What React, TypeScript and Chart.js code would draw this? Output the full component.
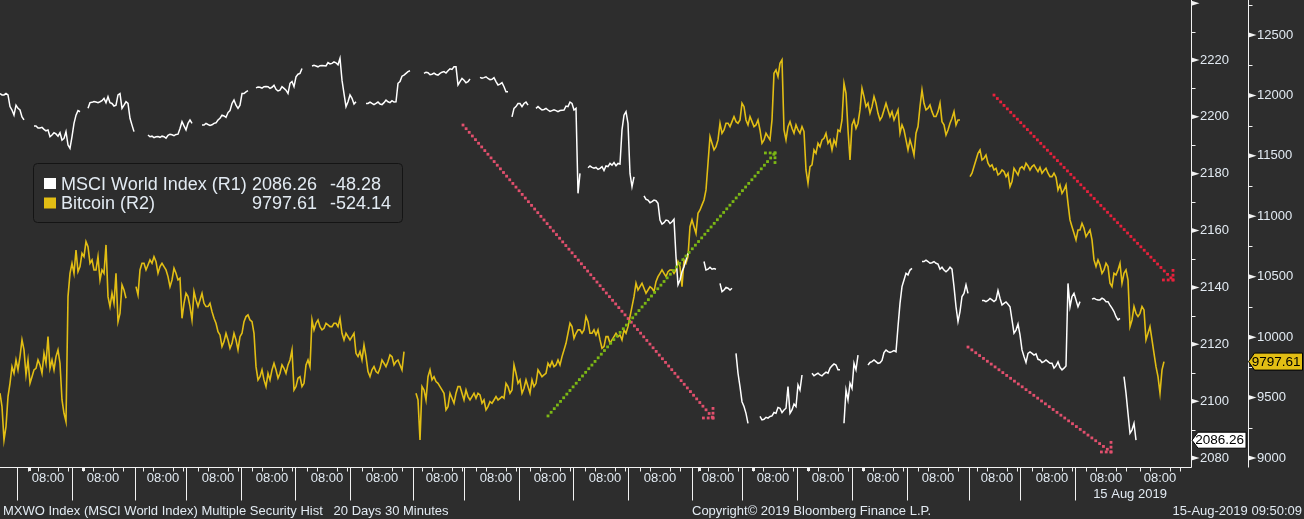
import React, { useEffect, useRef } from 'react';
import { Chart, registerables } from 'chart.js';

Chart.register(...registerables);

const BG = '#2d2d2d';
const TEXT = '#e2eaf2';
const FONT = '"Liberation Sans", Arial, sans-serif';
const YELLOW = '#e2be14';

// x = sample index along Bloomberg's compressed intraday axis
const bitcoin: (number | null)[] = [
  9536, 9149, 9508, 9756, 9811, 9839, 9894, 9811, 9673, 9742,
  9770, 9866, 10004, 9811, 9839, 9784, 9370, 10335, 10611, 10721,
  10584, 10666, 10749, 10639, 10556, 10473, 10528, 10335, 10363, 10528,
  10197, 10390, null, null, 10418, 10556, 10611, 10597, 10611, 10625,
  10584, 10584, 10501, 10473, 10528, 10487, 10280, 10335, 10142, 10308,
  10308, 10280, 10253, 10211, 10115, 10018, 9963, 9977, 9949, 9977,
  10004, 10128, 10184, 10128, 9756, 9673, 9646, 9701, 9729, 9729,
  9701, 9742, 9770, 9894, 9591,
  9673, 9618, 9811, 10142, 10115, 10087, 10073, 10101, 10087, 10115,
  10156, 9977, 10004, 10004, 9866, 9880, 9935, 9715, 9729, 9715,
  9742, 9784, 9798, 9839, 9798, 9770, 9880, null, null, 9536,
  9149, 9563, 9673, 9646, 9632, 9591, 9536, 9425, 9494, 9536,
  9591, 9480, 9508, 9508, 9494, 9522, 9480, 9425, 9453, 9508,
  9494, 9494, 9591, 9563, 9701, 9646, 9577, 9591, 9646, 9618,
  9701, 9687, 9784, 9798, 9770, 9770, 9894, 10032, 10087, 10032,
  10060, 10060, 10128, 10032,
  10018, 9977, 9922, 10004, 9977, 10032, 10018, 10060, 10087, 10253,
  10446, 10418, 10404, 10390, 10404, 10459, 10528, 10528, 10542, 10556,
  10556, 10584, 10639, 10666, 10970, 10859, 11052, 11135, 11439, 11604,
  11576, 11770, 11714, 11770, 11783, 11783, 11797, 11907, 11756, 11783,
  11756, 11714, 11632, 11659, 11797, 12211, 12266, 11714, 11742, 11728,
  11756, 11687, 11701, 11273, 11425, 11521, 11576, 11645, 11604, 11549,
  11590, 11701, 12100, 11714, 11756, 11728, 11880, 11990, 11935, 11907,
  11935, 11797, 11880, 11880,
  11866, 11838, 11687, 11714, 11549, 11576, 11687, 11907, 11935, 11894,
  11866, 11825, 11935, 11756, 11714, 11811, 11756, 11797, null, null,
  11356, 11466, 11549, 11480, 11439, 11425, 11397, 11356, 11370, 11356,
  11287, 11370, 11397, 11389, 11416, 11411, 11397, 11405, 11378, 11356,
  11328, 11323, 11259, 11218, 11107, 10914, 10804, 10887, 10901, 10859,
  10804, 10584, 10597, 10556, 10584, 10418, 10515, 10611, 10528, 10473,
  10142, 10197, 10197, 10225, 10032, 9977, 9756, 9536, 9797.61,
];

// Bitcoin readings half-way between the samples above (x = i + 0.5)
const bitcoinHalfStep: (number | null)[] = [
  9425, 9260, 9618, 9701, 9729, 9977, 9687, 9618, 9729, 9811,
  9701, 9784, 9742, 9729, 9894, 9480, 9301, 10528, 10528, 10542,
  10694, 10790, 10611, 10556, 10666, 10556, 10763, 10253, 10280, 10128,
  10432, 10322, null, null, 10349, 10611, 10556, 10639, 10666, 10528,
  10611, 10556, 10418, 10570, 10473, 10156, 10363, 10253, 10377, 10253,
  10363, 10253, 10280, 10156, 10046, 9922, 10032, 9908, 10032, 9894,
  10032, 10170, 10142, 10032, 9646, 9729, 9591, 9646, 9784, 9660,
  9770, 9701, 9811, 9563, 9660,
  9591, 9770, 9756, 10060, 10142, 10060, 10115, 10087, 10115, 10087,
  10032, 10032, 9977, 10032, 9839, 9811, 9839, 9673, 9756, 9701,
  9811, 9756, 9853, 9770, 9811, 9729, null, null, null, 9480,
  9591, 9480, 9729, 9673, 9618, 9563, 9398, 9536, 9453, 9591,
  9536, 9563, 9480, 9536, 9536, 9453, 9398, 9467, 9480, 9480,
  9508, 9618, 9536, 9770, 9618, 9536, 9646, 9536, 9591, 9729,
  9673, 9701, 9756, 9756, 9811, 9839, 9949, 10115, 9991, 10060,
  10032, 10170, 10032, 10060,
  10060, 9908, 10004, 9949, 10004, 10004, 9977, 10032, 10170, 10335,
  10390, 10446, 10363, 10418, 10377, 10501, 10556, 10501, 10556, 10528,
  10625, 10418, 10611, 10914, 10914, 11025, 11094, 11218, 11659, 11549,
  11632, 11687, 11770, 11742, 11825, 11770, 11935, 11797, 11825, 11742,
  11797, 11604, 11687, 11632, 12183, 12156, 12294, 11632, 11783, 11687,
  11714, 11742, 11383, 11411, 11549, 11604, 11632, 11687, 11632, 11632,
  11714, 11797, 12018, 11466, 11797, 11770, 12059, 11907, 11852, 11990,
  11852, 11825, 11935, 11825,
  11797, 11880, 11756, 11632, 11632, 11507, 11742, 12045, 11880, 11921,
  11825, 11866, 11783, 11673, 11770, 11866, 11797, null, null, 11328,
  11411, 11521, 11466, 11507, 11411, 11383, 11342, 11383, 11328, 11245,
  11397, 11342, 11411, 11439, 11383, 11425, 11370, 11356, 11397, 11328,
  11356, 11218, 11190, 11259, 10970, 10859, 10887, 10942, 10832, 10887,
  10639, 10639, 10528, 10611, 10446, 10528, 10556, 10446, 10556, 10087,
  10253, 10170, 10253, 9977, 10087, 9866, 9673, 9729,
];

const msci: (number | null)[] = [
  2208.2, 2207.7, 2207.7, 2202.4, 2204.1, 2202.4, 2198.9, null, null, 2196.8,
  2196.1, 2195.6, 2195.4, 2193.6, 2194.0, 2194.4, 2192.4, 2190.1, 2193.0, 2200.6,
  2201.8, null, 2203.0, 2205.1, 2205.2, 2205.3, 2206.5, 2207.1, 2204.7, 2204.1,
  2208.2, 2204.1, 2204.7, 2197.1, null, null, null, 2193.6, 2193.2, 2193.0,
  2192.8, 2193.0, 2193.5, 2193.7, 2193.8, 2195.9, 2196.8, 2197.7, 2197.7, null,
  null, 2197.1, 2197.3, 2197.2, 2197.9, 2199.5, 2200.3, 2201.5, 2204.7, 2204.1,
  2204.1, 2208.2, 2209.2, null, 2210.2, 2210.4, 2210.6, 2210.6, 2210.4, 2209.7,
  2209.4, 2210.0, 2208.2, 2212.4, 2214.1,
  2215.3, null, null, 2217.9, 2217.9, 2218.0, 2218.0, 2219.1, 2218.8, 2219.0,
  2220.6, 2208.2, 2205.3, 2206.5, 2205.3, null, null, 2204.7, 2204.7, 2204.7,
  2204.5, 2205.0, 2205.3, 2205.7, 2205.3, 2212.4, 2214.7, 2215.9, null, null,
  null, 2215.3, 2215.5, 2215.0, 2214.9, 2215.3, 2215.9, 2216.2, 2216.7, 2217.6,
  2212.4, 2212.9, 2212.4, null, null, 2213.9, 2213.8, 2213.5, 2213.2, 2212.4,
  2211.5, 2210.6, 2208.8, 2200.0, 2203.6, 2204.7, 2204.7, 2204.1, null, 2203.0,
  2203.0, 2202.6, 2202.4, 2202.2, 2202.2, 2202.2, 2202.4, 2203.6, 2204.7, 2203.0,
  2180.1, null, 2182.1, 2182.2,
  2182.2, 2181.9, 2181.1, 2182.5, 2183.0, 2182.8, 2183.4, 2200.6, 2197.7, 2175.4,
  null, null, 2172.2, 2170.7, 2170.2, 2170.5, 2163.7, 2162.8, 2163.5, 2163.1,
  2150.8, 2142.6, 2147.3, 2152.0, null, null, null, 2149.1, 2146.4, 2146.4,
  2146.4, 2141.4, 2139.1, 2139.7, 2139.7, 2116.8, 2105.1, 2098.1, 2092.2, null,
  null, 2094.6, 2093.6, 2094.0, 2094.8, 2095.7, 2097.5, 2096.9, 2105.1, 2096.9,
  2098.1, 2103.9, null, null, 2109.8, 2109.4, 2109.2, 2109.6, 2109.8, 2112.4,
  2112.7, 2111.0, 2092.2, 2100.4, 2104.5, 2111.0, null, null, 2112.7, 2113.9,
  2113.9, 2113.5, 2117.1, 2117.4,
  2117.4, 2117.4, 2134.4, 2142.6, 2144.4, 2146.7, null, null, 2149.1, 2149.1,
  2148.7, 2148.5, 2146.4, 2146.1, 2146.1, 2146.4, 2133.2, 2131.5, 2137.9, 2137.9,
  null, null, null, 2135.4, 2135.4, 2135.6, 2135.6, 2136.2, 2134.4, 2134.1,
  2128.6, 2125.0, 2123.3, 2115.7, 2116.8, 2116.8, 2116.6, 2114.5, 2113.9, 2113.9,
  2113.3, 2112.4, 2111.9, 2111.6, 2141.4, 2136.8, 2135.6, 2135.0, null, null,
  2135.9, 2135.8, 2135.6, 2135.8, 2135.0, 2132.7, 2129.7, 2129.1, 2108.6, 2095.7,
  2089.9, 2086.26,
];

// MSCI readings half-way between the samples above (x = i + 0.5)
const msciHalfStep: (number | null)[] = [
  2207.7, 2208.2, 2203.6, 2200.6, 2203.0, 2200.0, null, null, 2196.8, 2196.1,
  2196.3, 2195.1, 2193.0, 2194.4, 2193.2, 2191.8, 2194.8, 2188.9, 2197.7, 2202.2,
  null, null, 2205.0, 2205.4, 2205.0, 2205.7, 2205.0, 2205.0, 2203.8, 2207.7,
  2203.0, 2205.3, 2199.5, 2194.8, null, null, null, 2193.0, 2192.7, 2193.1,
  2193.2, 2192.5, 2193.9, 2193.4, 2193.9, 2198.3, 2195.4, 2198.9, null, null,
  2197.1, 2197.7, 2197.0, 2197.7, 2198.9, 2200.6, 2199.8, 2202.2, 2205.9, 2203.0,
  2208.2, 2208.8, null, null, 2210.5, 2210.1, 2210.7, 2210.0, 2211.1, 2209.1,
  2210.6, 2209.4, 2211.8, 2210.6, 2215.0,
  2217.0, null, null, 2218.1, 2217.6, 2218.1, 2217.9, 2218.6, 2219.3, 2218.3,
  2212.9, 2203.6, 2207.7, 2204.5, null, null, 2204.7, 2205.2, 2204.3, 2205.2,
  2204.3, 2205.9, 2205.0, 2205.2, 2211.8, 2214.3, 2215.3, 2216.2, null, null,
  null, 2215.7, 2214.8, 2215.4, 2214.7, 2215.7, 2215.4, 2216.9, 2217.6, 2211.2,
  2213.5, 2212.0, 2213.3, null, null, 2213.6, 2214.1, 2213.1, 2213.8, 2211.2,
  2212.0, 2208.8, null, 2203.0, 2204.7, 2203.6, 2205.2, null, null, 2203.6,
  2202.4, 2203.0, 2201.9, 2202.5, 2201.8, 2202.3, 2203.8, 2205.2, 2202.4, 2173.1,
  null, null, 2182.7, 2181.9,
  2181.5, 2182.5, 2182.7, 2183.6, 2183.9, 2183.6, 2195.4, 2201.8, 2180.1, 2178.9,
  null, null, 2171.0, 2169.8, 2170.7, 2169.6, 2162.3, 2163.7, 2162.5, 2164.0,
  2140.9, 2145.5, 2149.6, null, null, null, null, 2146.1, 2147.1, 2146.6,
  null, 2138.5, 2140.0, 2139.1, null, 2109.8, 2099.8, 2095.7, null, null,
  null, 2093.4, 2094.3, 2094.6, 2096.0, 2097.8, 2096.0, 2097.5, 2095.7, 2099.0,
  2105.7, 2109.2, null, null, 2108.9, 2109.8, 2108.9, 2110.2, 2111.6, 2113.1,
  2111.0, null, 2103.9, 2106.3, 2113.3, 2116.2, null, null, 2113.6, 2114.5,
  2113.3, 2114.3, 2118.0, 2117.1,
  2117.8, 2126.2, 2140.3, 2145.0, 2146.1, null, null, 2149.1, 2149.6, 2148.5,
  2149.1, 2148.2, 2147.1, 2145.5, 2147.1, 2140.3, 2128.0, 2136.8, 2140.9, null,
  null, null, 2135.4, 2135.0, 2136.1, 2135.0, 2138.9, 2133.8, 2134.9, 2133.2,
  2123.9, 2127.1, 2118.0, 2113.6, 2117.3, 2116.2, 2114.7, 2113.6, 2114.5, 2113.3,
  2111.6, 2113.8, 2111.0, 2112.4, 2133.2, 2137.9, 2133.2, null, null, null,
  2136.2, 2135.6, 2136.2, 2135.0, 2133.8, 2131.5, 2128.6, null, 2102.8, 2088.7,
  2092.2,
];

const X_MAX = 297.75;
const daySeparators = [4.25, 18, 33.75, 46.5, 60.25, 73.75, 87.5, 103.25, 116, 129.75, 143.25, 157, 173, 185.5, 199.25, 213, 226.75, 242.25, 255, 268.75];
const timeTicks = [12, 25.75, 40.75, 54.5, 68, 81.75, 95.5, 110.5, 124, 137.5, 151.25, 165, 179.5, 193.25, 207, 220.75, 234.5, 249.25, 263, 276.5, 290];
const minorOffsets = [-5, -2.5, 2.5, 5];
const eventMarks = [7.25, 20.75, 174.75, 188.25, 202, 215.75];
const timeLabel = '08:00';
const lastDateLabel = '15 Aug 2019';

const r1Ticks = [2080, 2100, 2120, 2140, 2160, 2180, 2200, 2220, 2240];
const r1Minor = [2090, 2110, 2130, 2150, 2170, 2190, 2210, 2230];
const r2Ticks = [9000, 9500, 10000, 10500, 11000, 11500, 12000, 12500];
const r2Minor = [9250, 9750, 10250, 10750, 11250, 11750, 12250, 12750];
const R1_MIN = 2076.83, R1_MAX = 2241.1;
const R2_MIN = 8925.5, R2_MAX = 12789.5;

const legendNames = ['MSCI World Index (R1)', 'Bitcoin (R2)'];
const legendLast = ['2086.26', '9797.61'];
const legendChange = ['-48.28', '-524.14'];
const legendColors = ['#ffffff', YELLOW];

// annotation arrows on the Bitcoin (R2) scale
const arrowStarts = [[115.75, 11755], [137, 9348], [248.5, 12003], [242, 9918]];
const arrowEnds = [[178.25, 9331], [193.75, 11524], [293.25, 10473], [277.75, 9050]];
const arrowColors = ['#e2506e', '#7cb814', '#e8213c', '#e2506e'];

const footerLeft = 'MXWO Index (MSCI World Index) Multiple Security Hist   20 Days 30 Minutes';
const footerCenter = 'Copyright\u00a9 2019 Bloomberg Finance L.P.';
const footerRight = '15-Aug-2019 09:50:09';

function dotted(ctx: CanvasRenderingContext2D, x0: number, y0: number, x1: number, y1: number, color: string) {
  const dx = x1 - x0, dy = y1 - y0;
  const len = Math.hypot(dx, dy);
  const step = 4.8, size = 2.8;
  const n = Math.floor(len / step);
  ctx.fillStyle = color;
  for (let k = 0; k <= n; k++) {
    const t = (k * step) / len;
    ctx.fillRect(x0 + dx * t - size / 2, y0 + dy * t - size / 2, size, size);
  }
}

const bgPlugin = {
  id: 'bg',
  beforeDraw(chart: any) {
    const { ctx, width, height } = chart;
    ctx.save();
    ctx.fillStyle = BG;
    ctx.fillRect(0, 0, width, height);
    ctx.restore();
  },
};

const arrowPlugin = {
  id: 'arrows',
  afterDatasetsDraw(chart: any) {
    const ctx = chart.ctx as CanvasRenderingContext2D;
    const xs = chart.scales.x, y2 = chart.scales.y2;
    ctx.save();
    arrowStarts.forEach((s, k) => {
      const e = arrowEnds[k];
      const x0 = xs.getPixelForValue(s[0]), yy0 = y2.getPixelForValue(s[1]);
      const x1 = xs.getPixelForValue(e[0]), yy1 = y2.getPixelForValue(e[1]);
      dotted(ctx, x0, yy0, x1, yy1, arrowColors[k]);
      const sx = Math.sign(x0 - x1), sy = Math.sign(yy0 - yy1);
      dotted(ctx, x1, yy1, x1 + sx * 13, yy1, arrowColors[k]);
      dotted(ctx, x1, yy1, x1, yy1 + sy * 13, arrowColors[k]);
    });
    ctx.restore();
  },
};

const overlayPlugin = {
  id: 'overlay',
  afterDraw(chart: any) {
    const ctx = chart.ctx as CanvasRenderingContext2D;
    const area = chart.chartArea;
    const xs = chart.scales.x, y1 = chart.scales.y1, y2 = chart.scales.y2;
    ctx.save();
    ctx.strokeStyle = '#f2f2f2';
    ctx.fillStyle = '#f2f2f2';
    ctx.lineWidth = 1;
    const ax1 = Math.round(y1.left) + 0.5;
    const ax2 = Math.round(y2.left) + 0.5;
    const by = Math.round(area.bottom) + 0.5;
    ctx.beginPath();
    ctx.moveTo(0, by); ctx.lineTo(ax1, by);
    ctx.moveTo(ax1, 0); ctx.lineTo(ax1, by);
    ctx.moveTo(ax2, 0); ctx.lineTo(ax2, by);
    ctx.stroke();
    const flag = (ax: number, y: number) => {
      ctx.beginPath();
      ctx.moveTo(ax, y - 2.5);
      ctx.lineTo(ax + 8, y);
      ctx.lineTo(ax, y + 2.5);
      ctx.closePath();
      ctx.fill();
    };
    r1Ticks.forEach((v) => flag(ax1, y1.getPixelForValue(v)));
    r2Ticks.forEach((v) => flag(ax2, y2.getPixelForValue(v)));
    ctx.beginPath();
    r1Minor.forEach((v) => { const y = Math.round(y1.getPixelForValue(v)) + 0.5; ctx.moveTo(ax1, y); ctx.lineTo(ax1 + 4, y); });
    r2Minor.forEach((v) => { const y = Math.round(y2.getPixelForValue(v)) + 0.5; ctx.moveTo(ax2, y); ctx.lineTo(ax2 + 4, y); });
    daySeparators.forEach((v) => {
      const x = Math.round(xs.getPixelForValue(v)) + 0.5;
      ctx.moveTo(x, by); ctx.lineTo(x, by + 33);
    });
    timeTicks.forEach((v) => {
      minorOffsets.forEach((o) => {
        const x = Math.round(xs.getPixelForValue(v + o)) + 0.5;
        ctx.moveTo(x, by); ctx.lineTo(x, by + 4);
      });
    });
    ctx.stroke();
    eventMarks.forEach((v) => {
      const x = Math.round(xs.getPixelForValue(v));
      ctx.fillRect(x - 1, by + 0.5, 3, 3);
    });

    // date under the last time label
    ctx.fillStyle = TEXT;
    ctx.font = `13px ${FONT}`;
    ctx.textAlign = 'center';
    ctx.textBaseline = 'alphabetic';
    ctx.fillText(lastDateLabel, xs.getPixelForValue(timeTicks[timeTicks.length - 1]) - 30, 498);

    // legend
    ctx.beginPath();
    (ctx as any).roundRect(33.5, 163.5, 369, 59, 4);
    ctx.fillStyle = BG;
    ctx.fill();
    ctx.strokeStyle = '#141414';
    ctx.stroke();
    ctx.font = `18px ${FONT}`;
    legendNames.forEach((name, k) => {
      const base = 189.5 + k * 19.5;
      ctx.fillStyle = legendColors[k];
      ctx.fillRect(44, base - 11.5, 12, 11);
      ctx.fillStyle = TEXT;
      ctx.textAlign = 'left';
      ctx.fillText(name, 61, base);
      ctx.textAlign = 'right';
      ctx.fillText(legendLast[k], 317, base);
      ctx.textAlign = 'left';
      ctx.fillText(legendChange[k], 330, base);
    });

    // last-value tags
    const lastM = msci[msci.length - 1] as number;
    const lastB = bitcoin[bitcoin.length - 1] as number;
    const tag = (x: number, y: number, w: number, h: number, fill: string, text: string) => {
      ctx.beginPath();
      ctx.moveTo(x, y);
      ctx.lineTo(x + 6, y - h / 2);
      ctx.lineTo(x + w, y - h / 2);
      ctx.lineTo(x + w, y + h / 2);
      ctx.lineTo(x + 6, y + h / 2);
      ctx.closePath();
      ctx.fillStyle = fill;
      ctx.fill();
      ctx.strokeStyle = '#000';
      ctx.stroke();
      ctx.fillStyle = '#000';
      ctx.font = `13.5px ${FONT}`;
      ctx.textAlign = 'right';
      ctx.textBaseline = 'middle';
      ctx.fillText(text, x + w - 2, y + 0.5);
    };
    tag(ax2, y2.getPixelForValue(lastB), 54, 17, YELLOW, lastB.toFixed(2));
    tag(ax1 + 0.5, y1.getPixelForValue(lastM), 54, 16, '#ffffff', lastM.toFixed(2));

    // footer
    ctx.fillStyle = TEXT;
    ctx.font = `13px ${FONT}`;
    ctx.textBaseline = 'alphabetic';
    ctx.textAlign = 'left';
    ctx.fillText(footerLeft, 3, 514.5);
    ctx.fillText(footerCenter, 692, 514.5);
    ctx.textAlign = 'right';
    ctx.fillText(footerRight, 1302, 514.5);
    ctx.restore();
  },
};

function interleave(main: (number | null)[], half: (number | null)[]) {
  const pts: { x: number; y: number | null }[] = [];
  main.forEach((v, i) => {
    pts.push({ x: i, y: v });
    if (i < half.length) pts.push({ x: i + 0.5, y: half[i] });
  });
  return pts;
}

export default function App() {
  const ref = useRef<HTMLCanvasElement | null>(null);
  useEffect(() => {
    if (!ref.current) return;
    const tickFont = { family: FONT, size: 13 };
    const chart = new Chart(ref.current, {
      type: 'line',
      data: {
        datasets: [
          {
            label: 'MSCI World Index (R1)',
            data: interleave(msci, msciHalfStep),
            yAxisID: 'y1',
            borderColor: '#ffffff',
            borderWidth: 1.5,
            pointRadius: 0,
            spanGaps: false,
            tension: 0,
          },
          {
            label: 'Bitcoin (R2)',
            data: interleave(bitcoin, bitcoinHalfStep),
            yAxisID: 'y2',
            borderColor: YELLOW,
            borderWidth: 1.6,
            pointRadius: 0,
            spanGaps: false,
            tension: 0,
          },
        ],
      },
      options: {
        animation: false,
        responsive: false,
        devicePixelRatio: 1,
        layout: { padding: 0 },
        plugins: { legend: { display: false }, tooltip: { enabled: false } },
        scales: {
          x: {
            type: 'linear',
            position: 'bottom',
            min: 0,
            max: X_MAX,
            grid: { display: false, drawTicks: false },
            border: { display: false },
            ticks: {
              autoSkip: false,
              maxRotation: 0,
              minRotation: 0,
              color: TEXT,
              font: tickFont,
              padding: 4,
              callback: () => timeLabel,
            },
            afterBuildTicks: (s: any) => { s.ticks = timeTicks.map((v) => ({ value: v })); },
            afterFit: (s: any) => { s.height = 52; s.paddingLeft = 0; s.paddingRight = 0; },
          },
          y1: {
            type: 'linear',
            position: 'right',
            weight: 1,
            min: R1_MIN,
            max: R1_MAX,
            grid: { display: false, drawTicks: false },
            border: { display: false },
            ticks: { color: TEXT, font: tickFont, padding: 9, callback: (v: any) => (Number(v) === 2240 ? '' : String(v)) },
            afterBuildTicks: (s: any) => { s.ticks = r1Ticks.map((v) => ({ value: v })); },
            afterFit: (s: any) => { s.width = 57; s.paddingTop = 0; s.paddingBottom = 0; },
          },
          y2: {
            type: 'linear',
            position: 'right',
            weight: 2,
            min: R2_MIN,
            max: R2_MAX,
            grid: { display: false, drawTicks: false },
            border: { display: false },
            ticks: { color: TEXT, font: tickFont, padding: 9, callback: (v: any) => String(v) },
            afterBuildTicks: (s: any) => { s.ticks = r2Ticks.map((v) => ({ value: v })); },
            afterFit: (s: any) => { s.width = 56; s.paddingTop = 0; s.paddingBottom = 0; },
          },
        },
      } as any,
      plugins: [bgPlugin, arrowPlugin, overlayPlugin],
    });
    return () => chart.destroy();
  }, []);
  return (
    <div style={{ position: 'fixed', left: 0, top: 0, width: 1304, height: 519, background: BG }}>
      <canvas ref={ref} width={1304} height={519} style={{ display: 'block' }} />
    </div>
  );
}
